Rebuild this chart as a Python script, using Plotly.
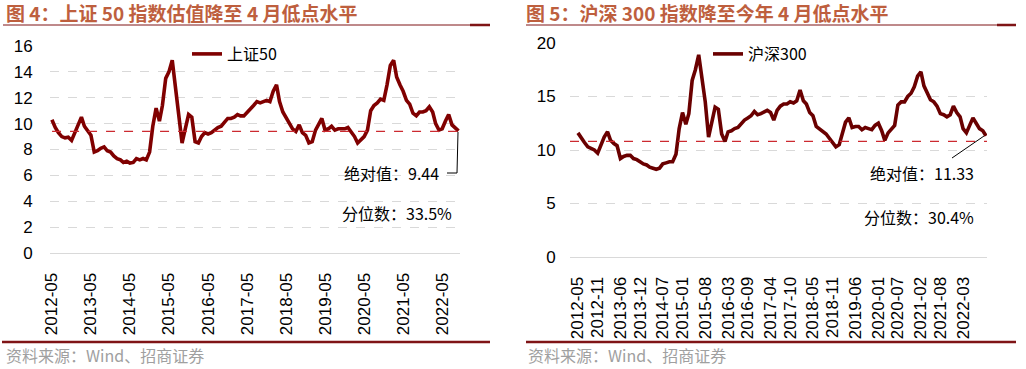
import pandas as pd
import plotly.graph_objects as go

# ---------------- data ----------------
sz50_values = [
    10.3, 9.7, 9.3, 9.0, 8.9, 8.95, 8.7, 9.3, 10.0, 10.5, 9.8, 9.4,
    9.1, 7.8, 7.9, 8.1, 8.2, 7.9, 7.8, 7.5, 7.3, 7.2, 7.0, 7.1,
    6.95, 7.0, 7.3, 7.2, 7.3, 7.2, 7.8, 9.8, 11.2, 10.2, 11.4, 13.5,
    14.0, 14.9, 12.8, 11.0, 8.5, 9.6, 10.7, 10.5, 8.6, 8.5, 9.0, 9.3,
    9.2, 9.3, 9.5, 9.7, 9.8, 10.1, 10.4, 10.4, 10.5, 10.7, 10.6, 10.6,
    10.9, 11.2, 11.4, 11.7, 11.6, 11.7, 11.8, 11.7, 12.5, 13.0, 11.7, 10.9,
    10.5, 10.0, 9.6, 9.4, 9.9, 9.3, 9.1, 8.5, 8.6, 9.5, 10.0, 10.4,
    9.5, 9.6, 9.8, 9.5, 9.6, 9.6, 9.6, 9.7, 9.4, 9.0, 8.5, 8.8,
    9.0, 9.5, 11.0, 11.4, 11.6, 11.9, 11.8, 13.0, 14.5, 14.9, 13.6, 13.0,
    12.5, 11.8, 11.5, 10.8, 10.6, 10.9, 10.9, 11.0, 11.3, 10.9, 10.0, 9.5,
    9.6, 10.2, 10.7, 9.9, 9.7, 9.44,
]
hs300_values = [
    11.6, 11.1, 10.7, 10.3, 10.1, 10.0, 9.7, 10.5, 11.2, 11.7, 10.9, 10.6,
    10.4, 9.2, 9.4, 9.5, 9.5, 9.2, 9.1, 8.9, 8.7, 8.6, 8.4, 8.3,
    8.2, 8.3, 8.7, 8.8, 8.9, 8.9, 9.6, 12.0, 13.5, 12.4, 13.4, 16.5,
    17.5, 18.9, 16.5, 14.5, 11.2, 12.6, 14.0, 13.8, 11.5, 10.8, 11.7, 11.8,
    12.0, 12.1, 12.5, 12.8, 13.0, 13.2, 13.6, 13.3, 13.4, 13.6, 13.7, 13.5,
    12.8, 13.7, 14.1, 14.3, 14.3, 14.5, 14.4, 14.6, 15.6, 14.6, 14.3, 13.5,
    13.2, 12.2, 12.0, 11.7, 11.5, 11.1, 10.7, 10.3, 10.5, 11.5, 12.6, 13.0,
    12.1, 12.2, 12.2, 11.9, 12.1, 12.0, 11.9, 12.3, 12.5, 11.8, 10.9, 11.6,
    12.0, 12.3, 14.2, 14.5, 14.5, 15.0, 15.3, 15.9, 16.9, 17.3, 16.0, 15.3,
    14.7, 14.5, 14.1, 13.4, 13.3, 13.1, 13.3, 14.1, 13.5, 13.1, 12.0, 11.6,
    12.2, 13.0, 12.5, 12.0, 11.8, 11.33,
]
months = pd.date_range("2012-05-01", periods=len(sz50_values), freq="MS")

sz50_ref = 9.4
hs300_ref = 10.8

left_ticks = ["2012-05", "2013-05", "2014-05", "2015-05", "2016-05", "2017-05",
              "2018-05", "2019-05", "2020-05", "2021-05", "2022-05"]
right_ticks = ["2012-05", "2012-11", "2013-06", "2013-12", "2014-07", "2015-01",
               "2015-08", "2016-03", "2016-09", "2017-04", "2017-10", "2018-05",
               "2018-11", "2019-06", "2020-01", "2020-07", "2021-02", "2021-08",
               "2022-03"]

left_title = "图 4：上证 50 指数估值降至 4 月低点水平"
right_title = "图 5：沪深 300 指数降至今年 4 月低点水平"
source_text = "资料来源：Wind、招商证券"

# ---------------- layout helpers ----------------
W, H = 1026, 369
def px(x):
    return x / W
def py(y):
    return 1 - y / H

TITLE_COLOR = "#BE5F3E"
RULE_COLOR = "#7F1416"
LINE_L = "#800000"
LINE_R = "#6A0000"
REF_COLOR = "#CC2A30"
GRID = "#D9D9D9"
NUM_FONT = "Liberation Sans, Arial, sans-serif"
CJK_FONT = "Noto Sans CJK SC, sans-serif"

fig = go.Figure()
fig.add_trace(go.Scatter(x=months, y=sz50_values, mode="lines", name="上证50",
                         line=dict(color=LINE_L, width=3.6), xaxis="x", yaxis="y",
                         legend="legend"))
fig.add_trace(go.Scatter(x=months, y=hs300_values, mode="lines", name="沪深300",
                         line=dict(color=LINE_R, width=3.6), xaxis="x2", yaxis="y2",
                         legend="legend2"))

axis_common = dict(showline=False, automargin=False, fixedrange=True)
fig.update_layout(
    width=W, height=H,
    margin=dict(l=0, r=0, t=0, b=0),
    paper_bgcolor="white", plot_bgcolor="white",
    font=dict(family=NUM_FONT, color="#000000", size=16),
    xaxis=dict(domain=[px(50), px(460)], anchor="y", type="date",
               range=["2012-04-13", "2022-10-15"],
               tickvals=[pd.Timestamp(t + "-01") for t in left_ticks],
               ticktext=left_ticks, tickangle=-90, showgrid=False,
               ticks="outside", ticklen=12, tickcolor="rgba(0,0,0,0)",
               tickfont=dict(size=17, family=NUM_FONT), **axis_common),
    yaxis=dict(domain=[py(253), py(46)], anchor="x", range=[0, 16], dtick=2,
               showgrid=True, gridcolor=GRID, griddash="dash", gridwidth=1,
               zeroline=True, zerolinecolor=GRID, zerolinewidth=1,
               ticks="outside", ticklen=13, tickcolor="rgba(0,0,0,0)",
               tickfont=dict(size=17, family=NUM_FONT), **axis_common),
    xaxis2=dict(domain=[px(570), px(987)], anchor="y2", type="date",
                range=["2012-02-17", "2022-10-10"],
                tickvals=[pd.Timestamp(t + "-01") for t in right_ticks],
                ticktext=right_ticks, tickangle=-90, showgrid=False,
                ticks="outside", ticklen=12, tickcolor="rgba(0,0,0,0)",
                tickfont=dict(size=17, family=NUM_FONT), **axis_common),
    yaxis2=dict(domain=[py(257), py(43)], anchor="x2", range=[0, 20], dtick=5,
                showgrid=True, gridcolor=GRID, griddash="dash", gridwidth=1,
                zeroline=True, zerolinecolor=GRID, zerolinewidth=1,
                ticks="outside", ticklen=10, tickcolor="rgba(0,0,0,0)",
                tickfont=dict(size=17, family=NUM_FONT), **axis_common),
    legend=dict(x=px(187), y=py(54), xanchor="left", yanchor="middle",
                bgcolor="rgba(255,255,255,0)", borderwidth=0,
                font=dict(family=CJK_FONT, size=16, color="#000")),
    legend2=dict(x=px(708), y=py(54), xanchor="left", yanchor="middle",
                 bgcolor="rgba(255,255,255,0)", borderwidth=0,
                 font=dict(family=CJK_FONT, size=16, color="#000")),
    showlegend=True,
)

shapes = []
# reference dashed lines
shapes.append(dict(type="line", xref="x domain", yref="y", x0=0.005, x1=1.0,
                   y0=sz50_ref, y1=sz50_ref, line=dict(color=REF_COLOR, width=1.3, dash="dash")))
shapes.append(dict(type="line", xref="x2 domain", yref="y2", x0=0.0, x1=1.0,
                   y0=hs300_ref, y1=hs300_ref, line=dict(color=REF_COLOR, width=1.3, dash="dash")))
# leader lines
shapes.append(dict(type="path", xref="paper", yref="paper",
                   path=f"M{px(447)},{py(173)} L{px(457)},{py(173)} L{px(458)},{py(132)}",
                   line=dict(color="#000", width=1)))
shapes.append(dict(type="line", xref="paper", yref="paper",
                   x0=px(952), y0=py(158), x1=px(984), y1=py(136),
                   line=dict(color="#000", width=1)))
# title rules
for x0, x1, x2 in [(3, 470, 490), (526, 997, 1016)]:
    shapes.append(dict(type="line", xref="paper", yref="paper", x0=px(x0), x1=px(x1),
                       y0=py(25), y1=py(25), line=dict(color=RULE_COLOR, width=1)))
    shapes.append(dict(type="line", xref="paper", yref="paper", x0=px(x1), x1=px(x2),
                       y0=py(25), y1=py(25), line=dict(color=RULE_COLOR, width=2.5)))
# bottom rules
for x0, x1 in [(2, 490), (526, 1016)]:
    shapes.append(dict(type="line", xref="paper", yref="paper", x0=px(x0), x1=px(x1),
                       y0=py(342), y1=py(342), line=dict(color=RULE_COLOR, width=2.5)))
fig.update_layout(shapes=shapes)

ann = []
def text(x, y, s, size=16, color="#000", family=CJK_FONT, anchor="left", bold=False):
    if bold:
        s = "<b>" + s + "</b>"
    ann.append(dict(x=px(x), y=py(y), xref="paper", yref="paper", text=s, showarrow=False,
                    xanchor=anchor, yanchor="middle",
                    font=dict(size=size, color=color, family=family)))

text(4, 13, left_title, size=19, color=TITLE_COLOR, bold=True)
text(524, 13, right_title, size=19, color=TITLE_COLOR, bold=True)
text(4, 355, source_text, size=16, color="#A0A0A0")
text(526, 355, source_text, size=16, color="#A0A0A0")
text(441, 173, "绝对值：9.44", anchor="right")
text(454, 213, "分位数：33.5%", anchor="right")
text(976, 173, "绝对值：11.33", anchor="right")
text(976, 217, "分位数：30.4%", anchor="right")
fig.update_layout(annotations=ann)

fig.write_html("out.html", config={"displayModeBar": False},
               post_script="document.body.style.margin='0';document.body.style.overflow='hidden';")
